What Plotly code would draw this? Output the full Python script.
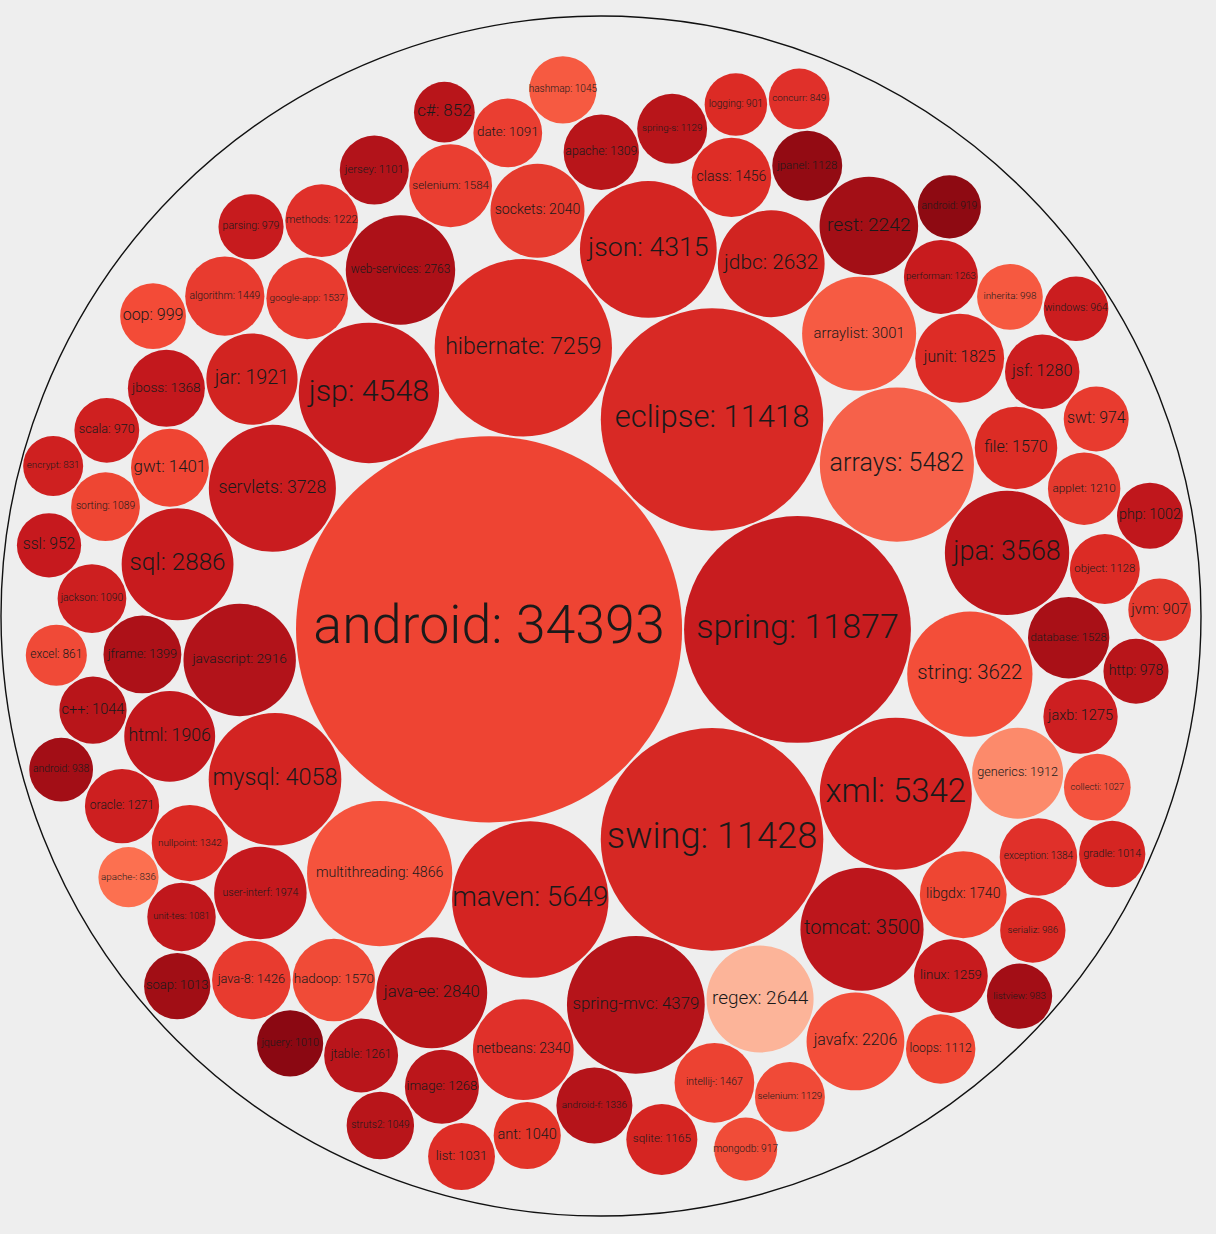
import math
import plotly.graph_objects as go

# ---------------- data ----------------
tags = ["android", "spring", "swing", "eclipse", "hibernate", "maven", "arrays", "xml",
        "multithreading", "jsp", "spring-mvc", "json", "mysql", "servlets", "string", "jpa",
        "tomcat", "arraylist", "javascript", "sql", "java-ee", "web-services", "regex", "jdbc",
        "netbeans", "rest", "javafx", "sockets", "user-interf", "jar", "generics", "html",
        "junit", "libgdx", "selenium", "hadoop", "file", "google-app", "database", "intellij-",
        "class", "algorithm", "java-8", "gwt", "jframe", "exception", "jboss", "nullpoint",
        "android-f", "apache", "jsf", "jaxb", "oracle", "image", "performan", "jtable",
        "linux", "methods", "applet", "sqlite", "spring-s", "selenium", "jpanel", "object",
        "loops", "jersey", "date", "jackson", "sorting", "unit-tes", "struts2", "hashmap",
        "c++", "ant", "list", "collecti", "gradle", "soap", "jquery", "php",
        "oop", "inherita", "serializ", "listview", "parsing", "http", "swt", "scala",
        "windows", "ssl", "android", "android", "mongodb", "jvm", "logging", "excel",
        "c#", "concurr", "apache-", "encrypt"]

counts = [34393, 11877, 11428, 11418, 7259, 5649, 5482, 5342,
          4866, 4548, 4379, 4315, 4058, 3728, 3622, 3568,
          3500, 3001, 2916, 2886, 2840, 2763, 2644, 2632,
          2340, 2242, 2206, 2040, 1974, 1921, 1912, 1906,
          1825, 1740, 1584, 1570, 1570, 1537, 1528, 1467,
          1456, 1449, 1426, 1401, 1399, 1384, 1368, 1342,
          1336, 1309, 1280, 1275, 1271, 1268, 1263, 1261,
          1259, 1222, 1210, 1165, 1129, 1129, 1128, 1128,
          1112, 1101, 1091, 1090, 1089, 1081, 1049, 1045,
          1044, 1040, 1031, 1027, 1014, 1013, 1010, 1002,
          999, 998, 986, 983, 979, 978, 974, 970,
          964, 952, 938, 919, 917, 907, 901, 861,
          852, 849, 836, 831]

fills = ["#ee4433", "#c81c1f", "#d62824", "#d82925", "#dc2c25", "#d42422", "#f6614a", "#d32322",
         "#f5533d", "#ca1d1f", "#b5141a", "#d42522", "#d32422", "#c91c1f", "#f34e39", "#bc161b",
         "#bd161c", "#f65b43", "#b2131a", "#c81b1e", "#b81519", "#ad1118", "#fcb499", "#d12421",
         "#e0302a", "#a30f16", "#f34e3a", "#e53b2e", "#c5191e", "#d22421", "#fc8a6b", "#c2181d",
         "#dd2c26", "#ee4633", "#ea3e31", "#f04b37", "#dc2c25", "#e83b2f", "#a91017", "#ec4232",
         "#de2d26", "#e83b2f", "#e83b2f", "#ef4533", "#ad1118", "#e0302a", "#c3181d", "#db2a24",
         "#b5141a", "#b8151a", "#cc1e20", "#cd1f21", "#cd1f20", "#bb161b", "#c81b1e", "#b9151b",
         "#c71b1e", "#e0302a", "#e53a2e", "#d52522", "#b8151a", "#f04a37", "#930b13", "#dc2b25",
         "#ee4633", "#b2131a", "#ea3e31", "#cd1f20", "#ee4633", "#c0171c", "#b8151a", "#f65a41",
         "#b8151a", "#e33428", "#de2d26", "#f4533e", "#d52522", "#a10e15", "#8b0812", "#c0171c",
         "#f34b37", "#f65940", "#db2a24", "#a30e16", "#c71b1e", "#b8151a", "#e83b2f", "#cf2020",
         "#cb1d1f", "#c6191e", "#a30e16", "#8e0a12", "#f04c38", "#e43a2e", "#dc2b25", "#f04a37",
         "#b8151a", "#e0302a", "#fc7050", "#cf2020"]

# ---------------- layout settings ----------------
W, H = 1216, 1234
PACK_DIAMETER = 1200
PACK_CX, PACK_CY = 601, 616
PADDING = 2
BG = "#eeeeee"


# ---------------- d3-style circle packing (d3.pack / packSiblings) ----------------
class Node:
    __slots__ = ("c", "next", "prev")

    def __init__(self, c):
        self.c = c
        self.next = None
        self.prev = None


def place(b, a, c):
    dx = b[0] - a[0]
    dy = b[1] - a[1]
    d2 = dx * dx + dy * dy
    if d2:
        a2 = (a[2] + c[2]) ** 2
        b2 = (b[2] + c[2]) ** 2
        if a2 > b2:
            x = (d2 + b2 - a2) / (2 * d2)
            y = math.sqrt(max(0.0, b2 / d2 - x * x))
            c[0] = b[0] - x * dx - y * dy
            c[1] = b[1] - x * dy + y * dx
        else:
            x = (d2 + a2 - b2) / (2 * d2)
            y = math.sqrt(max(0.0, a2 / d2 - x * x))
            c[0] = a[0] + x * dx - y * dy
            c[1] = a[1] + x * dy + y * dx
    else:
        c[0] = a[0] + c[2]
        c[1] = a[1]


def intersects(a, b):
    dr = a[2] + b[2] - 1e-6
    dx = b[0] - a[0]
    dy = b[1] - a[1]
    return dr > 0 and dr * dr > dx * dx + dy * dy


def score(node):
    a = node.c
    b = node.next.c
    ab = a[2] + b[2]
    dx = (a[0] * b[2] + b[0] * a[2]) / ab
    dy = (a[1] * b[2] + b[1] * a[2]) / ab
    return dx * dx + dy * dy


def encloses_not(a, b):
    dr = a[2] - b[2]
    dx = b[0] - a[0]
    dy = b[1] - a[1]
    return dr < 0 or dr * dr < dx * dx + dy * dy


def encloses_weak(a, b):
    dr = a[2] - b[2] + max(a[2], b[2], 1) * 1e-9
    dx = b[0] - a[0]
    dy = b[1] - a[1]
    return dr > 0 and dr * dr > dx * dx + dy * dy


def encloses_weak_all(a, B):
    return all(encloses_weak(a, p) for p in B)


def basis2(a, b):
    x1, y1, r1 = a
    x2, y2, r2 = b
    x21, y21, r21 = x2 - x1, y2 - y1, r2 - r1
    l = math.sqrt(x21 * x21 + y21 * y21)
    return [(x1 + x2 + x21 / l * r21) / 2, (y1 + y2 + y21 / l * r21) / 2, (l + r1 + r2) / 2]


def basis3(a, b, c):
    x1, y1, r1 = a
    x2, y2, r2 = b
    x3, y3, r3 = c
    a2 = x1 - x2
    a3 = x1 - x3
    b2 = y1 - y2
    b3 = y1 - y3
    c2 = r2 - r1
    c3 = r3 - r1
    d1 = x1 * x1 + y1 * y1 - r1 * r1
    d2 = d1 - x2 * x2 - y2 * y2 + r2 * r2
    d3 = d1 - x3 * x3 - y3 * y3 + r3 * r3
    ab = a3 * b2 - a2 * b3
    xa = (b2 * d3 - b3 * d2) / (ab * 2) - x1
    xb = (b3 * c2 - b2 * c3) / ab
    ya = (a3 * d2 - a2 * d3) / (ab * 2) - y1
    yb = (a2 * c3 - a3 * c2) / ab
    A = xb * xb + yb * yb - 1
    Bq = 2 * (r1 + xa * xb + ya * yb)
    C = xa * xa + ya * ya - r1 * r1
    if abs(A) > 1e-6:
        r = -((Bq + math.sqrt(max(0.0, Bq * Bq - 4 * A * C))) / (2 * A))
    else:
        r = -(C / Bq)
    return [x1 + xa + xb * r, y1 + ya + yb * r, r]


def basis(B):
    if len(B) == 1:
        return list(B[0])
    if len(B) == 2:
        return basis2(B[0], B[1])
    return basis3(B[0], B[1], B[2])


def extend_basis(B, p):
    if encloses_weak_all(p, B):
        return [p]
    for i in range(len(B)):
        if encloses_not(p, B[i]) and encloses_weak_all(basis2(B[i], p), B):
            return [B[i], p]
    for i in range(len(B) - 1):
        for j in range(i + 1, len(B)):
            if (encloses_not(basis2(B[i], B[j]), p)
                    and encloses_not(basis2(B[i], p), B[j])
                    and encloses_not(basis2(B[j], p), B[i])
                    and encloses_weak_all(basis3(B[i], B[j], p), B)):
                return [B[i], B[j], p]
    raise RuntimeError("enclose failed")


def enclose(circles):
    i, n = 0, len(circles)
    B, e = [], None
    while i < n:
        p = circles[i]
        if e is not None and encloses_weak(e, p):
            i += 1
        else:
            B = extend_basis(B, p)
            e = basis(B)
            i = 0
    return e


def pack_siblings(circles):
    n = len(circles)
    a = circles[0]
    a[0], a[1] = 0.0, 0.0
    b = circles[1]
    a[0] = -b[2]
    b[0], b[1] = a[2], 0.0
    c = circles[2]
    place(b, a, c)
    A, Bn, Cn = Node(a), Node(b), Node(c)
    A.next = Bn; Cn.prev = Bn
    Bn.next = Cn; A.prev = Cn
    Cn.next = A; Bn.prev = A
    i = 3
    while i < n:
        c = circles[i]
        place(A.c, Bn.c, c)
        Cn = Node(c)
        j, k = Bn.next, A.prev
        sj, sk = Bn.c[2], A.c[2]
        restart = False
        while True:
            if sj <= sk:
                if intersects(j.c, c):
                    Bn = j
                    A.next = Bn
                    Bn.prev = A
                    restart = True
                    break
                sj += j.c[2]
                j = j.next
            else:
                if intersects(k.c, c):
                    A = k
                    A.next = Bn
                    Bn.prev = A
                    restart = True
                    break
                sk += k.c[2]
                k = k.prev
            if j is k.next:
                break
        if restart:
            continue
        Cn.prev = A
        Cn.next = Bn
        A.next = Cn
        Bn.prev = Cn
        Bn = Cn
        aa = score(A)
        node = Cn.next
        while node is not Bn:
            ca = score(node)
            if ca < aa:
                A, aa = node, ca
            node = node.next
        Bn = A.next
        i += 1
    e = enclose(circles)
    for cc in circles:
        cc[0] -= e[0]
        cc[1] -= e[1]
    return e[2]


# order like d3 hierarchy.sort((a, b) => b.value - a.value) (stable)
order = sorted(range(len(counts)), key=lambda i: -counts[i])
s_tags = [tags[i] for i in order]
s_counts = [counts[i] for i in order]
s_fills = [fills[i] for i in order]

# pass 1: no padding (gives the scale used for padding)
circ = [[0.0, 0.0, math.sqrt(v)] for v in s_counts]
R0 = pack_siblings(circ)
# pass 2: with padding
pad = PADDING * R0 / PACK_DIAMETER
circ = [[0.0, 0.0, math.sqrt(v) + pad] for v in s_counts]
e = pack_siblings(circ)
for cc in circ:
    cc[2] -= pad
root_r = e + pad
k = PACK_DIAMETER / (2 * root_r)

px = [PACK_CX + k * cc[0] for cc in circ]
py = [PACK_CY + k * cc[1] for cc in circ]
pr = [k * cc[2] for cc in circ]

shapes = []
for x, y, r, col in zip(px, py, pr, s_fills):
    shapes.append(dict(type="circle", xref="x", yref="y", x0=x - r, x1=x + r, y0=y - r, y1=y + r,
                       fillcolor=col, line=dict(width=0), layer="below"))
R = k * root_r
shapes.append(dict(type="circle", xref="x", yref="y", x0=PACK_CX - R, x1=PACK_CX + R,
                   y0=PACK_CY - R, y1=PACK_CY + R, fillcolor="rgba(0,0,0,0)",
                   line=dict(color="#111111", width=1.4), layer="below"))

texts = [f"{t}: {v}" for t, v in zip(s_tags, s_counts)]
sizes = [3.9 * r / len(t) for r, t in zip(pr, texts)]

fig = go.Figure()
fig.add_trace(go.Scatter(
    x=px, y=py, mode="text", text=texts,
    textposition="middle center",
    textfont=dict(family="Roboto, 'Open Sans', sans-serif", size=sizes, color="#1a1a1a", weight=300),
    hoverinfo="text", showlegend=False))

fig.update_layout(
    width=W, height=H,
    margin=dict(l=0, r=0, t=0, b=0),
    paper_bgcolor=BG, plot_bgcolor=BG,
    shapes=shapes,
    xaxis=dict(range=[0, W], visible=False, fixedrange=True),
    yaxis=dict(range=[H, 0], visible=False, fixedrange=True),
    showlegend=False,
)

fig.write_html("out.html")
